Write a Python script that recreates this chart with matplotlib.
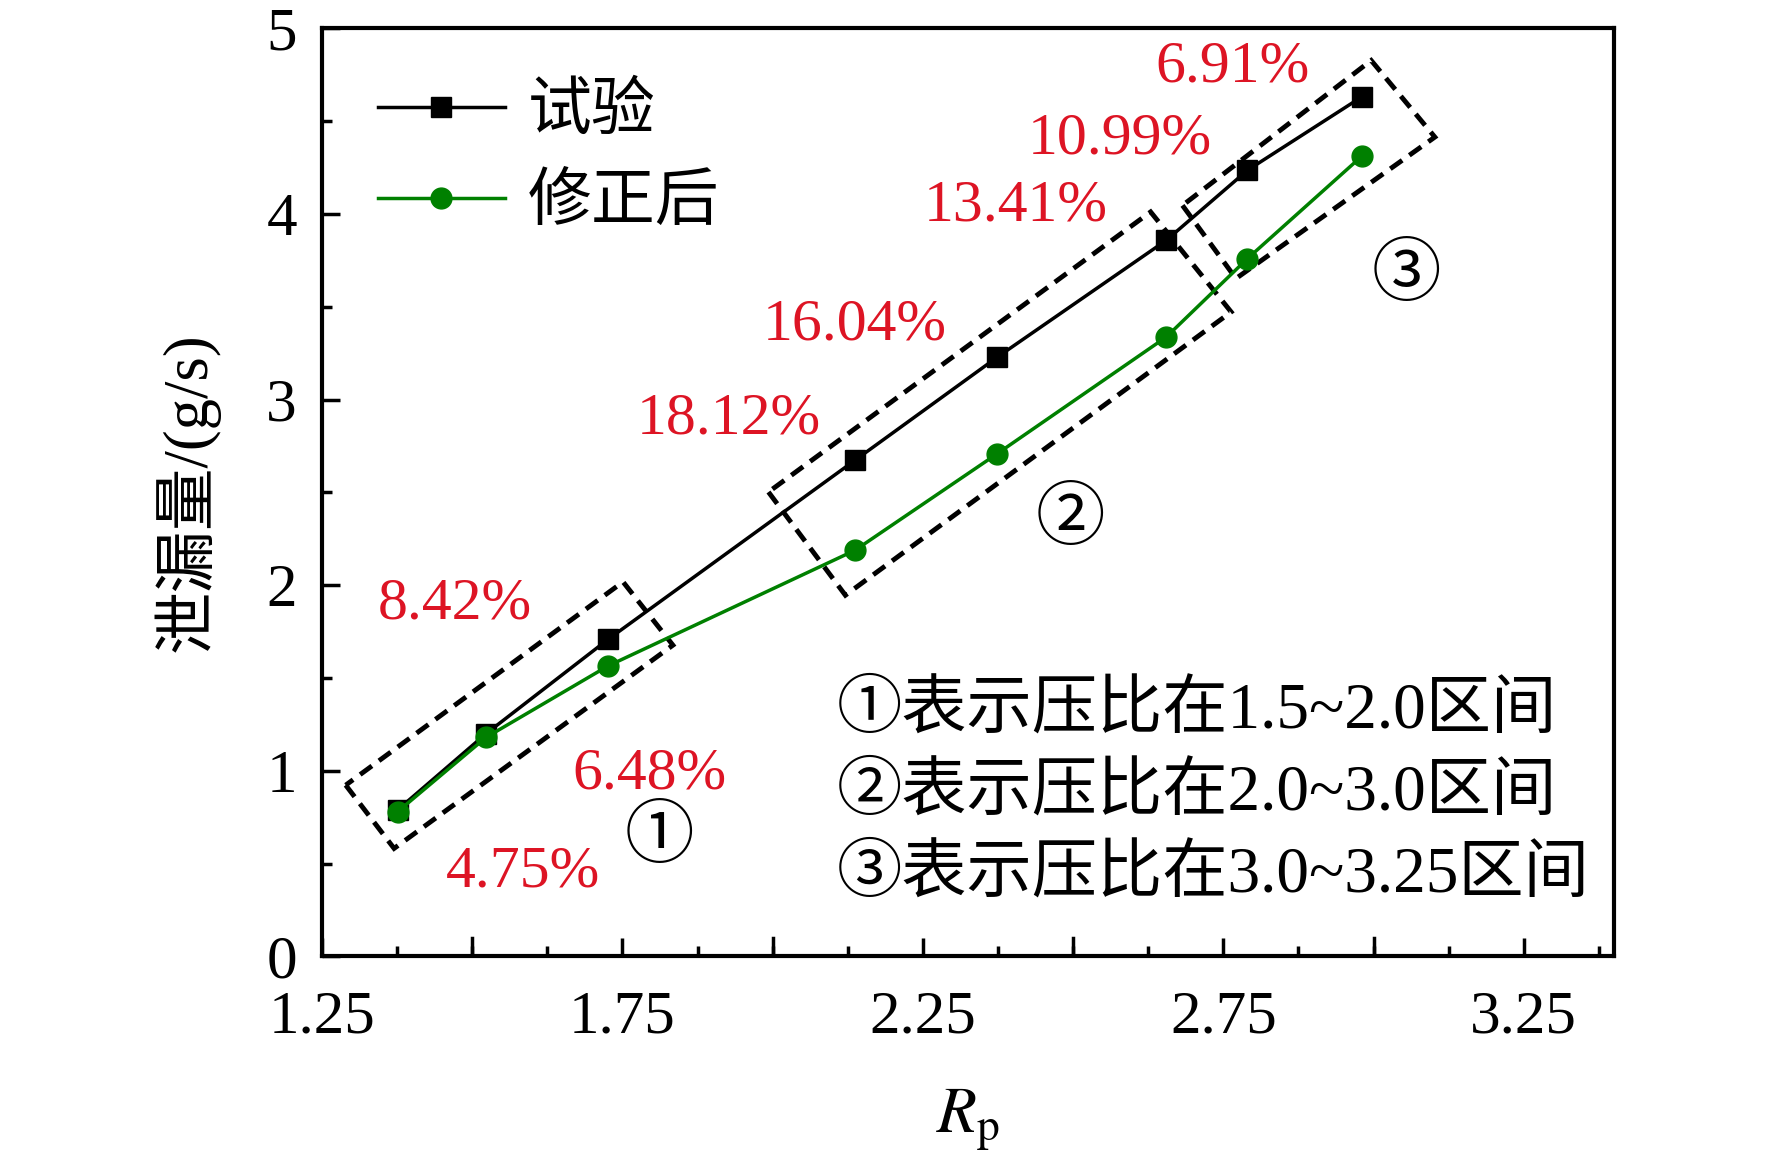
import matplotlib
matplotlib.use('Agg')
import matplotlib.pyplot as plt
from matplotlib.patches import Polygon
from matplotlib.ticker import MultipleLocator, FixedLocator

plt.rcParams['font.family'] = ['Liberation Serif', 'Noto Sans CJK SC']
plt.rcParams['mathtext.fontset'] = 'stix'

RED = '#DD1424'
GREEN = '#008000'

# ---- data ----
rp = [1.376, 1.523, 1.726, 2.137, 2.374, 2.655, 2.790, 2.980]
leak_test = [0.79, 1.20, 1.708, 2.673, 3.229, 3.858, 4.235, 4.630]
leak_corr = [0.78, 1.18, 1.565, 2.188, 2.709, 3.337, 3.759, 4.310]

err_labels = ['8.42%', '6.48%', '4.75%', '18.12%', '16.04%', '13.41%', '10.99%', '6.91%']
err_x = [1.471, 1.795, 1.584, 1.927, 2.137, 2.404, 2.578, 2.766]
err_y = [1.898, 0.982, 0.455, 2.891, 3.400, 4.041, 4.399, 4.787]

# dashed region boxes (corners in data units)
box1 = [(1.2895, 0.923), (1.370, 0.582), (1.834, 1.677), (1.751, 2.018)]
box2 = [(1.993, 2.502), (2.121, 1.946), (2.763, 3.472), (2.629, 4.011)]
box3 = [(2.682, 4.046), (2.771, 3.652), (3.102, 4.414), (2.996, 4.827)]

region_marks = ['①', '②', '③']
region_x = [1.812, 2.496, 3.055]
region_y = [0.629, 2.341, 3.660]

notes = ['①表示压比在1.5~2.0区间', '②表示压比在2.0~3.0区间', '③表示压比在3.0~3.25区间']
notes_y = [1.32, 0.88, 0.435]

fig = plt.figure(figsize=(17.72, 11.65), dpi=100)
ax = fig.add_axes([0.1817, 0.179, 0.7291, 0.7967])

ax.plot(rp, leak_test, color='black', lw=2.5, marker='s', ms=15, label='试验', zorder=3)
ax.plot(rp, leak_corr, color=GREEN, lw=2.5, marker='o', ms=15, label='修正后', zorder=4)

for b in (box1, box2, box3):
    ax.add_patch(Polygon(b, closed=True, fill=False, ec='black', lw=3.5,
                         ls=(0, (3, 1.8)), zorder=2))

for s, x, y in zip(err_labels, err_x, err_y):
    ax.text(x, y, s, color=RED, fontsize=43, ha='center', va='center')

for s, x, y in zip(region_marks, region_x, region_y):
    ax.text(x, y, s, fontsize=50, ha='center', va='center')

for s, y in zip(notes, notes_y):
    ax.text(2.106, y, s, fontsize=47, ha='left', va='center')

ax.set_xlim(1.25, 3.40)
ax.set_ylim(0, 5)
ax.xaxis.set_major_locator(FixedLocator([1.25, 1.75, 2.25, 2.75, 3.25]))
ax.xaxis.set_minor_locator(MultipleLocator(0.125))
ax.yaxis.set_major_locator(MultipleLocator(1))
ax.yaxis.set_minor_locator(MultipleLocator(0.5))

# longer unlabeled ticks at the quarter marks
for xv in [1.5, 2.0, 2.5, 3.0]:
    ax.axvline(xv, ymin=0, ymax=13 * 1.389 / 928, color='black', lw=2.5, zorder=1)

ax.tick_params(which='both', direction='in', top=False, right=False, width=2.5,
               labelsize=44)
ax.tick_params(axis='x', which='both', pad=24)
ax.tick_params(axis='y', which='both', pad=18)
ax.tick_params(which='major', length=13)
ax.tick_params(which='minor', length=7.5)
for sp in ax.spines.values():
    sp.set_linewidth(3)

ax.set_ylabel('泄漏量/(g/s)', fontsize=45)
ax.yaxis.set_label_coords(-0.079, 0.5)
ax.set_xlabel(r'$R_\mathrm{p}$', fontsize=47, va='top')
ax.xaxis.set_label_coords(0.5, -0.14)

ax.legend(loc='upper left', bbox_to_anchor=(0.043, 0.94), frameon=False,
          fontsize=46, handlelength=2.0, handletextpad=0.35, labelspacing=0.5,
          borderpad=0, borderaxespad=0)

fig.savefig('out.png', dpi=100, facecolor='white')
